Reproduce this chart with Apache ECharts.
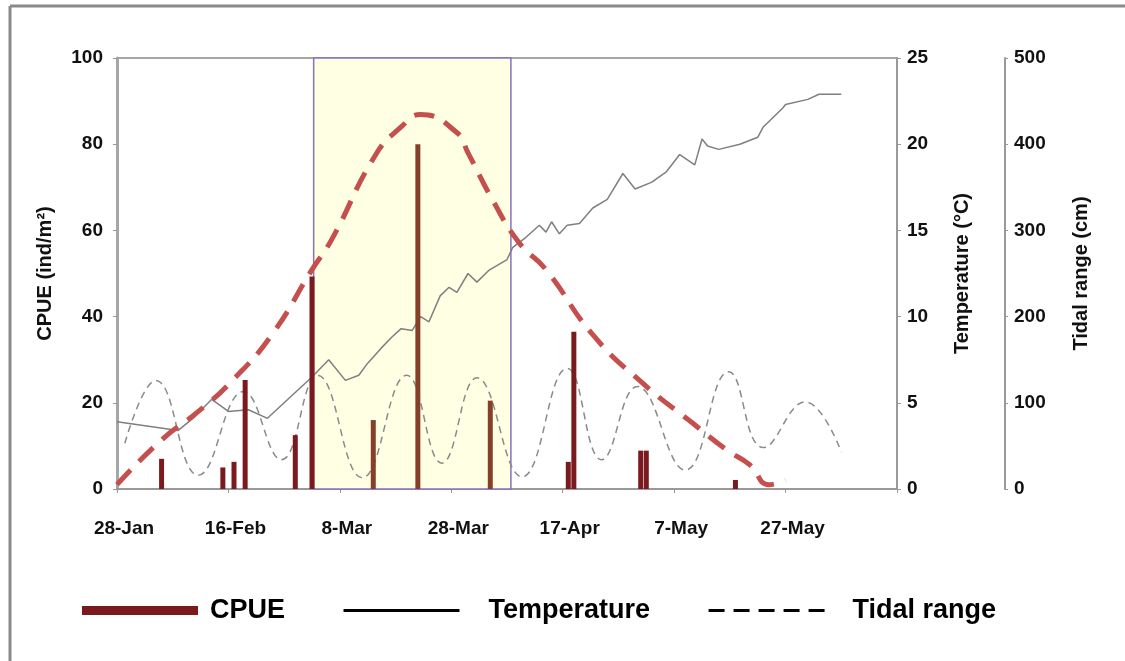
<!DOCTYPE html>
<html>
<head>
<meta charset="utf-8">
<script src="https://cdn.jsdelivr.net/npm/echarts@6/dist/echarts.min.js"></script>
<style>
html, body { margin: 0; padding: 0; background: #fff; }
#chart { width: 1125px; height: 661px; }
</style>
</head>
<body>
<div id="chart"></div>
<script>
// x = days since 28-Jan
var dateLabels = ['28-Jan', '16-Feb', '8-Mar', '28-Mar', '17-Apr', '7-May', '27-May', ''];

// CPUE bars (ind/m2)
var cpueDays = [8, 19, 21, 23, 32, 35, 46, 54, 67, 81, 82, 94, 95, 111];
var cpueValues = [7, 5, 6.3, 25.3, 12.5, 49.3, 16, 80, 20.5, 6.3, 36.5, 8.9, 8.9, 2.1];

// water temperature (°C)
var tempDays = [0, 11, 14, 17, 20, 23.6, 27, 30, 35, 38, 41, 43.4, 45, 47.5, 49.3, 51, 53, 54.5, 56, 58,
	59.6, 61, 63, 64.6, 66.8, 70, 71, 73.4, 75.8, 77, 78, 79.4, 80.8, 83, 85.4, 88, 90.8, 93, 96, 98.6,
	101, 103.7, 105, 106, 108, 111.8, 115, 116, 119.5, 120, 124, 126, 130];
var tempValues = [3.9, 3.4, 4.2, 5.2, 4.5, 4.6, 4.1, 5.0, 6.5, 7.5, 6.3, 6.6, 7.3, 8.2, 8.8, 9.3, 9.2, 10.0, 9.7, 11.2,
	11.7, 11.4, 12.5, 12.0, 12.7, 13.3, 14.0, 14.6, 15.3, 14.9, 15.5, 14.8, 15.3, 15.4, 16.3, 16.8, 18.3, 17.4, 17.8, 18.4,
	19.4, 18.8, 20.3, 19.9, 19.7, 20.0, 20.4, 21.0, 22.1, 22.3, 22.6, 22.9, 22.9];

// tidal range (cm), peaks and troughs
var tideDays = [1.4, 7, 14.6, 22.7, 29.5, 36, 44, 52, 58.3, 64.6, 72.7, 80.8, 87, 93.4, 102, 109.8, 116, 123.5, 130];
var tideValues = [53, 126, 16, 113, 34, 132, 13, 132, 30, 129, 14, 140, 34, 119, 22, 136, 48, 101, 43];

// fitted CPUE curve
var fitDays = [0, 8, 14.6, 20.5, 27.8, 35, 38.5, 46.4, 51, 54.5, 61, 63, 67.4, 72.2, 77, 85.4, 94.3, 103.3, 109.4, 113.6, 117, 120];
var fitValues = [1, 11.4, 18, 24.9, 35.8, 50.9, 57.8, 77.5, 84, 86.9, 82.7, 78, 67.1, 57.1, 50.9, 35.8, 24.6, 15.3, 9.1, 5.6, 1, 2];

// highlighted period
var boxStart = 35.3;
var boxEnd = 70.7;

function pairs(xs, ys) {
	var out = [];
	for (var i = 0; i < xs.length; i++) {
		out.push([xs[i], ys[i]]);
	}
	return out;
}

var myChart = echarts.init(document.getElementById('chart'));
var font = 'Liberation Sans, Arial, sans-serif';

var option = {
	animation: false,
	textStyle: { fontFamily: font },
	grid: {
		left: 117, right: 228, top: 58, bottom: 172,
		show: true, borderColor: '#a6a6a6', borderWidth: 2
	},
	legend: {
		left: 77, top: 592,
		itemWidth: 116, itemHeight: 9, itemGap: 57,
		textStyle: { fontSize: 27, fontWeight: 'bold', color: '#000' },
		data: [
			{ name: 'CPUE', icon: 'rect', itemStyle: { color: '#7b1a1e' },
				textStyle: { padding: [0, 0, 0, 7] } },
			{ name: 'Temperature', lineStyle: { color: '#000', width: 3 }, itemStyle: { opacity: 0 },
				textStyle: { padding: [0, 0, 0, 24] } },
			{ name: 'Tidal range', lineStyle: { color: '#000', width: 3, type: [16, 9] }, itemStyle: { opacity: 0 },
				textStyle: { padding: [0, 0, 0, 23] } }
		]
	},
	graphic: [
		{ type: 'line', shape: { x1: 10, y1: 6, x2: 1125, y2: 6 }, style: { stroke: '#8a8a8a', lineWidth: 3 } },
		{ type: 'line', shape: { x1: 10, y1: 6, x2: 10, y2: 661 }, style: { stroke: '#8a8a8a', lineWidth: 3 } }
	],
	xAxis: {
		type: 'value', min: 0, max: 140, interval: 20,
		axisLine: { lineStyle: { color: '#999', width: 2 } },
		axisTick: { length: 4, lineStyle: { color: '#999' } },
		splitLine: { show: false },
		axisLabel: {
			margin: 30, fontSize: 19, fontWeight: 'bold', color: '#111', padding: [0, 0, 0, 14],
			formatter: function (v) { return dateLabels[Math.round(v / 20)]; }
		}
	},
	yAxis: [
		{
			type: 'value', min: 0, max: 100, interval: 20, position: 'left',
			name: 'CPUE (ind/m²)', nameLocation: 'middle', nameGap: 62,
			nameTextStyle: { fontSize: 20, fontWeight: 'bold', color: '#111' },
			axisLine: { show: true, lineStyle: { color: '#a6a6a6', width: 3 } },
			axisTick: { show: true, length: 4, lineStyle: { color: '#999' } },
			splitLine: { show: false },
			axisLabel: { margin: 14, fontSize: 19, fontWeight: 'bold', color: '#111' }
		},
		{
			type: 'value', min: 0, max: 25, interval: 5, position: 'right',
			name: 'Temperature (°C)', nameLocation: 'middle', nameGap: 55,
			nameTextStyle: { fontSize: 20, fontWeight: 'bold', color: '#111' },
			axisLine: { show: true, lineStyle: { color: '#999', width: 2 } },
			axisTick: { show: true, length: 4, lineStyle: { color: '#999' } },
			splitLine: { show: false },
			axisLabel: { margin: 10, fontSize: 19, fontWeight: 'bold', color: '#111' }
		},
		{
			type: 'value', min: 0, max: 500, interval: 100, position: 'right', offset: 108,
			name: 'Tidal range (cm)', nameLocation: 'middle', nameGap: 66,
			nameTextStyle: { fontSize: 20, fontWeight: 'bold', color: '#111' },
			axisLine: { show: true, lineStyle: { color: '#999', width: 2 } },
			axisTick: { show: true, length: 3, lineStyle: { color: '#999' } },
			splitLine: { show: false },
			axisLabel: { margin: 9, fontSize: 19, fontWeight: 'bold', color: '#111' }
		}
	],
	series: [
		{
			name: 'Tidal range', type: 'line', yAxisIndex: 2, z: 1,
			data: pairs(tideDays, tideValues),
			smooth: 0.45, symbol: 'none',
			lineStyle: { color: '#8a8a8a', width: 1.5, type: [7, 5] },
			markArea: {
				silent: true,
				itemStyle: { color: '#ffffe4', borderColor: '#8670c4', borderWidth: 1.5 },
				data: [[{ xAxis: boxStart, yAxis: 500 }, { xAxis: boxEnd, yAxis: 0 }]]
			}
		},
		{
			name: 'Temperature', type: 'line', yAxisIndex: 1, z: 2,
			data: pairs(tempDays, tempValues),
			symbol: 'none',
			lineStyle: { color: '#7f7f7f', width: 1.5 }
		},
		{
			name: 'CPUE', type: 'bar', yAxisIndex: 0, z: 3,
			data: pairs(cpueDays, cpueValues),
			barWidth: 5,
			itemStyle: {
				color: function (p) {
					var d = p.data[0];
					return (d > boxStart && d < boxEnd) ? '#86402a' : '#7b1a1e';
				}
			}
		},
		{
			name: 'Fit', type: 'line', yAxisIndex: 0, z: 4,
			data: pairs(fitDays, fitValues),
			smooth: 0.5, symbol: 'none',
			lineStyle: { color: '#c44f4c', width: 5, type: [20, 12] }
		}
	]
};
myChart.setOption(option);
</script>
</body>
</html>
